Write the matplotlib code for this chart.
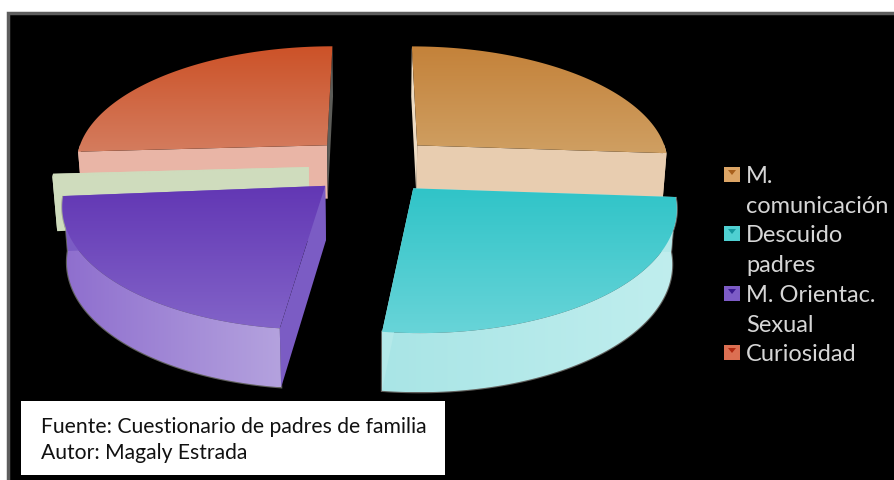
import numpy as np
import matplotlib
matplotlib.use('Agg')
import matplotlib.pyplot as plt
from matplotlib.colors import LinearSegmentedColormap
from matplotlib.patches import Polygon, Rectangle

plt.rcParams['font.family'] = ['Lato', 'DejaVu Sans']

# clockwise from the top
slices = ['M. comunicación', 'Descuido padres', 'M. Orientac. Sexual', 'Otros', 'Curiosidad']
values = [26.1, 25.9, 21.7, 0.4, 25.9]

legend_labels = ['M.\ncomunicación', 'Descuido\npadres', 'M. Orientac.\nSexual', 'Curiosidad']
legend_y = [175, 234, 294, 353]
legend_cols = ['#dca566', '#4fd0d2', '#7d5cc6', '#dc6f52']
legend_dark = ['#a8601c', '#159aa0', '#3a1a90', '#b02810']

face_top = ['#c4823a', '#30c4c8', '#6237b4', '#cfdcbd', '#cc5228']
face_bot = ['#cf9f62', '#68d4d8', '#8263c8', '#cfdcbd', '#d47c5e']
side_l = ['#e8cdb0', '#a9e5e6', '#8e6ece', '#cfdcbd', '#e9b5a6']
side_r = ['#e8cdb0', '#c0eeee', '#b4a2de', '#cfdcbd', '#e9b5a6']
cut_col = ['#e8cdb0', '#b4e9e9', '#7b5cc4', '#cfdcbd', '#e9b5a6']
back_col = ['#eedcc4', '#b4e9e9', '#7b5cc4', '#cfdcbd', '#5c5c58']

# perspective of the pie plane, in pixels
cx, cy = 372., 166.
sx, sy, persp = 253., 117.7, 0.138
explode, height = 0.25, 54.
z = [2]


def next_z():
    z[0] += 1
    return z[0]


def project(u, v):
    w = 1 + persp*v
    return cx + sx*u/w, cy - sy*v/w, w


def drop(x, y, w):
    return cx + (x - cx)*0.985, y + height/np.sqrt(w)


def gradient(ax, pts, c0, c1, vertical=True):
    pts = np.array(pts)
    x0, x1 = pts[:, 0].min(), pts[:, 0].max()
    y0, y1 = pts[:, 1].min(), pts[:, 1].max()
    cm = LinearSegmentedColormap.from_list('g', [c0, c1])
    g = np.linspace(0, 1, 128)
    g = g[:, None] if vertical else g[None, :]
    im = ax.imshow(g, cmap=cm, extent=(x0, x1, y1, y0), aspect='auto', interpolation='bilinear',
                   vmin=0, vmax=1, zorder=next_z())
    clip = Polygon(pts, closed=True, fc='none', ec='none', transform=ax.transData)
    ax.add_patch(clip)
    im.set_clip_path(clip)


fig = plt.figure(figsize=(8.94, 4.81), dpi=100, facecolor='white')
ax = fig.add_axes([0, 0, 1, 1])
ax.axis('off')

ax.add_patch(Rectangle((8, 14), 900, 480, fc='black', ec='#5e5e5e', lw=2.5, zorder=1))

# angles of every slice
ends = np.cumsum(values)/np.sum(values)*360
starts = np.append(0, ends[:-1])
rot = 90.

for i in [4, 0, 3, 2, 1]:
    a0 = np.radians(rot - starts[i])
    a1 = np.radians(rot - ends[i])
    mid = (a0 + a1)/2
    ou, ov = explode*np.cos(mid), explode*np.sin(mid)
    t = np.linspace(a0, a1, 80)
    ax_, ay_, aw_ = project(ou, ov)
    x, y, w = project(ou + np.cos(t), ov + np.sin(t))
    xd, yd = drop(x, y, w)
    apex = (ax_, ay_)
    apex_d = drop(ax_, ay_, aw_)

    # outer wall, only the front part shows
    front = np.sin(t) < 0.02
    if front.sum() > 1:
        wall = list(zip(x[front], y[front])) + list(zip(xd[front][::-1], yd[front][::-1]))
        if i in (1, 2):
            ax.add_patch(Polygon(wall, closed=True, fc='none', ec='#8a8a86', lw=1.6, alpha=0.7, zorder=next_z()))
        gradient(ax, wall, side_l[i], side_r[i], vertical=False)

    # the two cut faces, the one along the vertical takes the back colour
    for k in (0, -1):
        quad = [apex, (x[k], y[k]), (xd[k], yd[k]), apex_d]
        col = back_col[i] if np.sin(t[k]) > 0.5 else cut_col[i]
        ax.add_patch(Polygon(quad, closed=True, fc=col, ec='none', zorder=next_z()))

    # top of the slice
    face = [apex] + list(zip(x, y))
    gradient(ax, face, face_top[i], face_bot[i])

# legend
zt = next_z()
for lab, yy, c, d in zip(legend_labels, legend_y, legend_cols, legend_dark):
    ax.add_patch(Rectangle((724, yy - 7), 16, 15, fc=c, ec='none', zorder=zt))
    ax.add_patch(Polygon([(728, yy - 4), (736, yy - 4), (732, yy + 1)], closed=True, fc=d, ec='none', zorder=zt))
    for n, part in enumerate(lab.split('\n')):
        ax.text(746, yy + 2 + 29.5*n, part, color='#d6d6d6', fontsize=17, va='center', ha='left', zorder=zt)

# source box
ax.add_patch(Rectangle((21, 402), 424, 74, fc='white', ec='none', zorder=zt))
ax.text(41, 427, 'Fuente: Cuestionario de padres de familia', fontsize=15.2, color='#111111', va='center', zorder=zt + 1)
ax.text(41, 453, 'Autor: Magaly Estrada', fontsize=15.2, color='#111111', va='center', zorder=zt + 1)

ax.set_xlim(0, 894)
ax.set_ylim(481, 0)
fig.savefig('out.png', dpi=100, facecolor='white')
